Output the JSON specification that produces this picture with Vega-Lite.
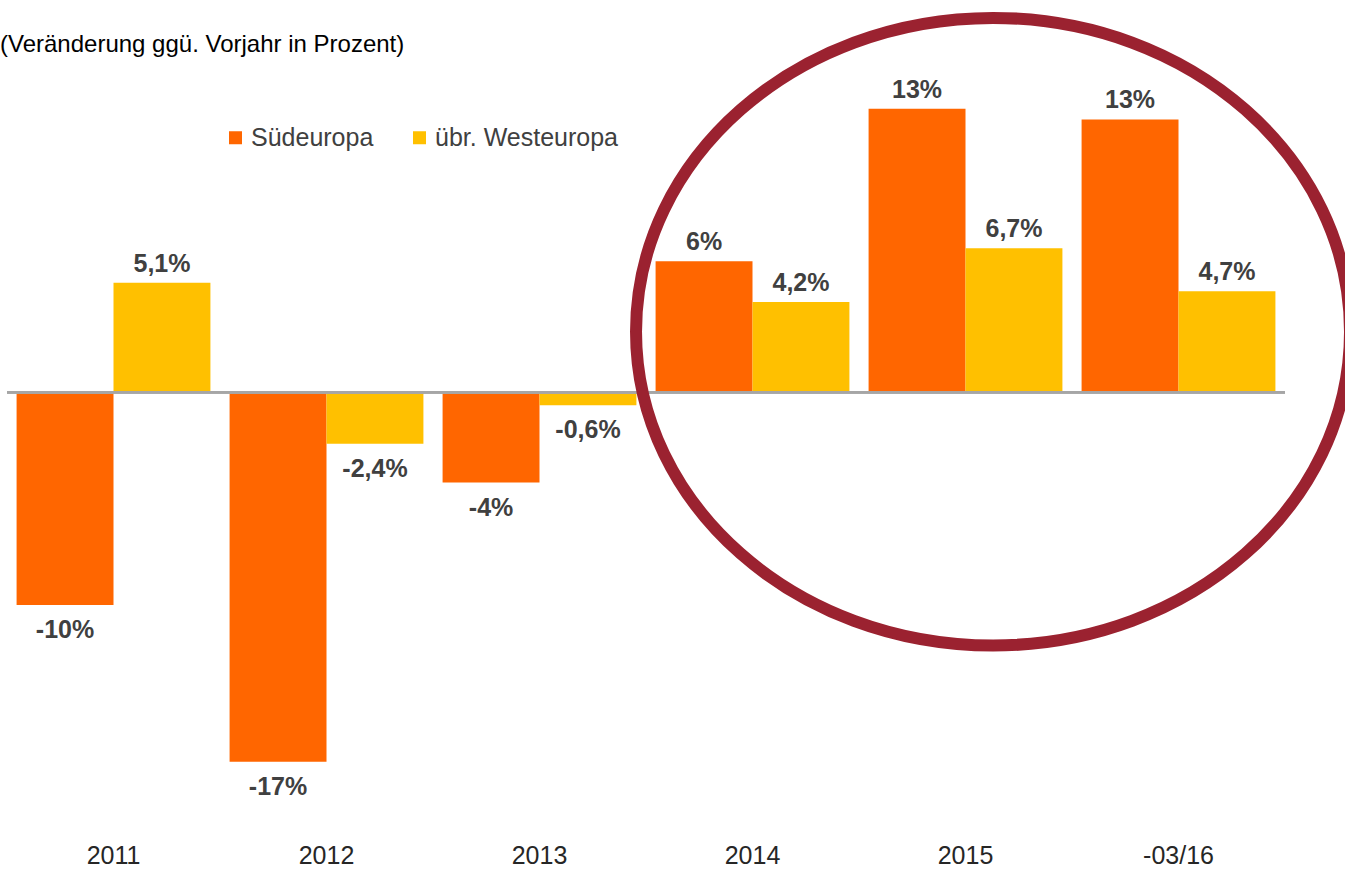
{
  "$schema": "https://vega.github.io/schema/vega-lite/v6.json",
  "autosize": "none",
  "padding": {"left": 7, "top": 70, "right": 60, "bottom": 49},
  "width": 1278,
  "height": 752,
  "background": "white",
  "title": {
    "text": "(Veränderung ggü. Vorjahr in Prozent)",
    "anchor": "start",
    "frame": "group",
    "dx": -7,
    "dy": 73,
    "offset": 10,
    "font": "Liberation Sans",
    "fontSize": 24,
    "fontWeight": "normal",
    "color": "#000000"
  },
  "config": {"view": {"stroke": null}},
  "data": {
    "values": [
      {"year": "2011", "region": "Südeuropa", "value": -9.9, "label": "-10%"},
      {"year": "2011", "region": "übr. Westeuropa", "value": 5.1, "label": "5,1%"},
      {"year": "2012", "region": "Südeuropa", "value": -17.2, "label": "-17%"},
      {"year": "2012", "region": "übr. Westeuropa", "value": -2.4, "label": "-2,4%"},
      {"year": "2013", "region": "Südeuropa", "value": -4.2, "label": "-4%"},
      {"year": "2013", "region": "übr. Westeuropa", "value": -0.6, "label": "-0,6%"},
      {"year": "2014", "region": "Südeuropa", "value": 6.1, "label": "6%"},
      {"year": "2014", "region": "übr. Westeuropa", "value": 4.2, "label": "4,2%"},
      {"year": "2015", "region": "Südeuropa", "value": 13.2, "label": "13%"},
      {"year": "2015", "region": "übr. Westeuropa", "value": 6.7, "label": "6,7%"},
      {"year": "-03/16", "region": "Südeuropa", "value": 12.7, "label": "13%"},
      {"year": "-03/16", "region": "übr. Westeuropa", "value": 4.7, "label": "4,7%"}
    ]
  },
  "encoding": {
    "x": {
      "field": "year",
      "type": "nominal",
      "sort": ["2011", "2012", "2013", "2014", "2015", "-03/16"],
      "scale": {"paddingInner": 0.09, "paddingOuter": 0.045},
      "axis": {
        "title": null,
        "orient": "bottom",
        "domain": false,
        "ticks": false,
        "labelAngle": 0,
        "labelFont": "Liberation Sans",
        "labelFontSize": 25,
        "labelColor": "#262626",
        "labelPadding": 21
      }
    },
    "xOffset": {
      "field": "region",
      "type": "nominal",
      "sort": ["Südeuropa", "übr. Westeuropa"],
      "scale": {"paddingInner": 0, "paddingOuter": 0}
    },
    "y": {
      "field": "value",
      "type": "quantitative",
      "scale": {"domain": [-20, 15], "nice": false, "zero": false},
      "axis": null
    }
  },
  "layer": [
    {
      "mark": {"type": "bar", "cornerRadius": 0},
      "encoding": {
        "color": {
          "field": "region",
          "type": "nominal",
          "sort": ["Südeuropa", "übr. Westeuropa"],
          "scale": {"domain": ["Südeuropa", "übr. Westeuropa"], "range": ["#FF6600", "#FFC000"]},
          "legend": {
            "title": null,
            "orient": "none",
            "direction": "horizontal",
            "legendX": 216,
            "legendY": 55,
            "symbolType": "square",
            "symbolSize": 169,
            "symbolStrokeWidth": 0,
            "labelFont": "Liberation Sans",
            "labelFontSize": 25,
            "labelLimit": 400,
            "labelColor": "#404040",
            "labelOffset": 3,
            "columnPadding": 33
          }
        }
      }
    },
    {
      "transform": [{"filter": "datum.value >= 0"}],
      "mark": {"type": "text", "baseline": "alphabetic", "dy": -11, "font": "Liberation Sans", "fontWeight": "bold", "fontSize": 25, "color": "#404040"},
      "encoding": {"text": {"field": "label"}}
    },
    {
      "transform": [{"filter": "datum.value < 0"}],
      "mark": {"type": "text", "baseline": "top", "dy": 13, "font": "Liberation Sans", "fontWeight": "bold", "fontSize": 25, "color": "#404040"},
      "encoding": {"text": {"field": "label"}}
    },
    {
      "mark": {"type": "rule", "color": "#A6A6A6", "strokeWidth": 2},
      "encoding": {"y": {"datum": 0}, "x": null, "xOffset": null}
    },
    {
      "data": {"values": [{"year": "2015", "center": 2.82}]},
      "mark": {
        "type": "point",
        "shape": "M -1 0 C -1 -0.4855 -0.5523 -0.879 0 -0.879 C 0.5523 -0.879 1 -0.4855 1 0 C 1 0.4855 0.5523 0.879 0 0.879 C -0.5523 0.879 -1 0.4855 -1 0 Z",
        "size": 509796,
        "filled": false,
        "stroke": "#9B2230",
        "strokeWidth": 12,
        "opacity": 1
      },
      "encoding": {
        "x": {"field": "year", "type": "nominal", "bandPosition": 0.642},
        "xOffset": null,
        "y": {"field": "center", "type": "quantitative"}
      }
    }
  ]
}
